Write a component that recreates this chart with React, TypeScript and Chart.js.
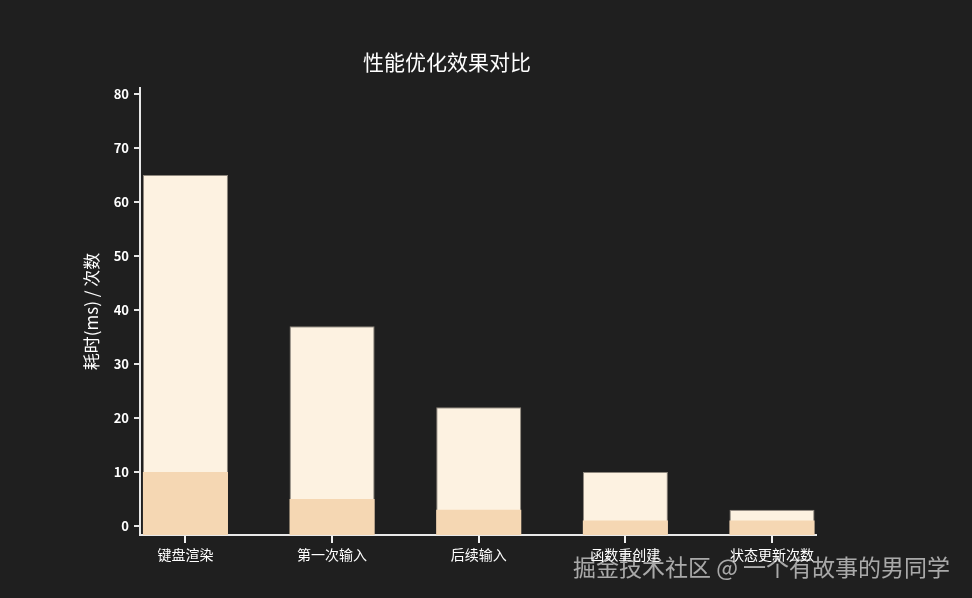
import React, { useEffect, useRef } from "react";
import { Chart, registerables } from "chart.js";

Chart.register(...registerables);

const categories = ["键盘渲染", "第一次输入", "后续输入", "函数重创建", "状态更新次数"];
const beforeValues = [65, 37, 22, 10, 3];
const afterValues = [10, 5, 3, 1, 1];
const yTicks = [0, 10, 20, 30, 40, 50, 60, 70, 80];
const titleText = "性能优化效果对比";
const yAxisTitle = "耗时(ms) / 次数";
const watermark = "掘金技术社区 @ 一个有故事的男同学";

const Y_MIN = -1.67;
const Y_MAX = 81.1;
const FONT = "'Noto Sans CJK SC', 'Noto Sans', sans-serif";

const overlayPlugin = {
  id: "overlayText",
  afterDraw(chart: any) {
    const { ctx } = chart;
    const xs = chart.scales.x;
    const base = chart.chartArea.bottom;
    ctx.save();
    ctx.strokeStyle = "#f0f0f0";
    ctx.lineWidth = 2;
    categories.forEach((_, i) => {
      const px = Math.round(xs.getPixelForValue(i));
      ctx.beginPath();
      ctx.moveTo(px, base + 1);
      ctx.lineTo(px, base + 8);
      ctx.stroke();
    });
    ctx.fillStyle = "#ffffff";
    ctx.font = `21px ${FONT}`;
    ctx.textAlign = "center";
    ctx.textBaseline = "middle";
    ctx.fillText(titleText, 447, 62);
    ctx.fillStyle = "rgba(255,255,255,0.62)";
    ctx.font = `23px ${FONT}`;
    ctx.textAlign = "left";
    ctx.fillText(watermark, 573, 567);
    ctx.restore();
  },
};

export default function App() {
  const ref = useRef<HTMLCanvasElement | null>(null);

  useEffect(() => {
    document.body.style.margin = "0";
    document.body.style.background = "#1f1f1f";
    if (!ref.current) return;
    const chart = new Chart(ref.current, {
      type: "bar",
      data: {
        datasets: [
          {
            label: "优化前",
            data: beforeValues.map((v, i) => ({ x: i, y: v })),
            backgroundColor: "#fdf2e1",
            borderColor: "rgba(190,180,165,0.7)",
            borderWidth: 1,
            grouped: false,
            base: Y_MIN,
            categoryPercentage: 1,
            barPercentage: 0.58,
            order: 2,
          },
          {
            label: "优化后",
            data: afterValues.map((v, i) => ({ x: i, y: v })),
            backgroundColor: "#f5d7b3",
            borderWidth: 0,
            grouped: false,
            base: Y_MIN,
            categoryPercentage: 1,
            barPercentage: 0.58,
            order: 1,
          },
        ] as any,
      },
      options: {
        animation: false,
        responsive: false,
        maintainAspectRatio: false,
        layout: { padding: { left: 0, right: 156, top: 88, bottom: 0 } },
        plugins: {
          legend: { display: false },
          tooltip: { enabled: false },
          title: { display: false },
        },
        scales: {
          x: {
            type: "linear",
            min: -0.31,
            max: 4.3,
            offset: false,
            afterBuildTicks: (scale: any) => {
              scale.ticks = categories.map((_, i) => ({ value: i }));
            },
            afterFit: (scale: any) => {
              scale.height = 63;
            },
            border: { display: true, color: "#e8e8e8", width: 2 },
            grid: {
              display: true,
              offset: false,
              drawOnChartArea: false,
              drawTicks: false,
              color: "#e8e8e8",
              lineWidth: 2,
            },
            ticks: {
              color: "#ffffff",
              font: { family: FONT, size: 14 },
              padding: 11,
              maxRotation: 0,
              autoSkip: false,
              callback: (v: any) => categories[Math.round(Number(v))] ?? "",
            },
          },
          y: {
            type: "linear",
            min: Y_MIN,
            max: Y_MAX,
            afterBuildTicks: (scale: any) => {
              scale.ticks = yTicks.map((v) => ({ value: v }));
            },
            afterFit: (scale: any) => {
              scale.width = 140;
            },
            border: { display: true, color: "#e8e8e8", width: 2 },
            grid: {
              drawOnChartArea: false,
              drawTicks: true,
              tickLength: 6,
              color: "#e8e8e8",
              lineWidth: 2,
            },
            ticks: {
              color: "#ffffff",
              font: { family: FONT, size: 13, weight: "bold" },
              padding: 5,
            },
            title: {
              display: true,
              text: yAxisTitle,
              color: "#ffffff",
              font: { family: FONT, size: 17 },
              padding: { top: 81, bottom: 0 },
            },
          },
        },
      } as any,
      plugins: [overlayPlugin],
    });
    return () => chart.destroy();
  }, []);

  return (
    <div style={{ width: 972, height: 598, background: "#1f1f1f", position: "relative" }}>
      <canvas ref={ref} width={972} height={598} style={{ display: "block" }} />
    </div>
  );
}
